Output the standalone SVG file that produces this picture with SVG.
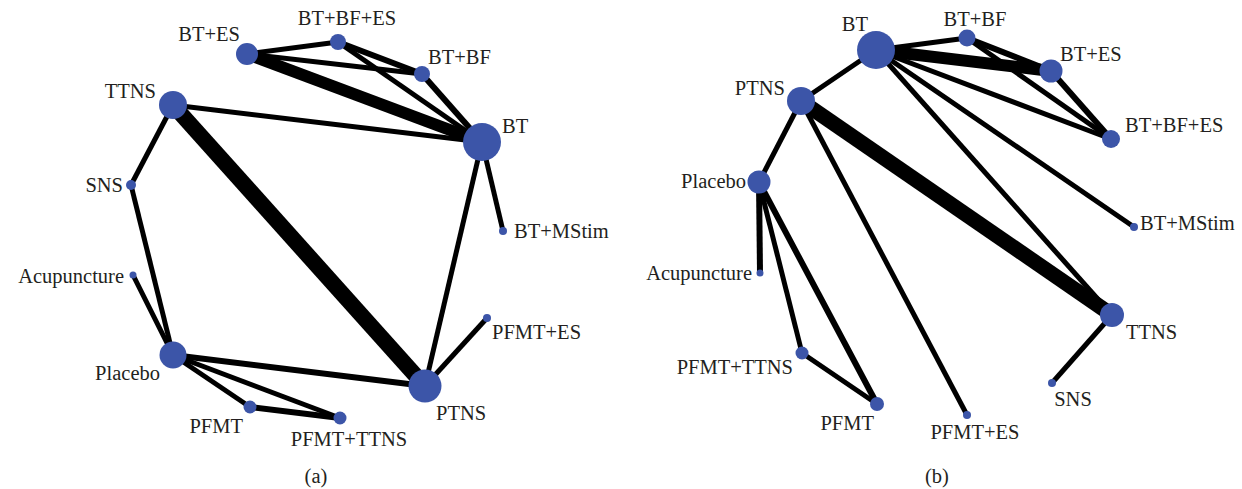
<svg xmlns="http://www.w3.org/2000/svg" width="1242" height="489" viewBox="0 0 1242 489">
<style>
.e{stroke:#000;stroke-linecap:butt;fill:none}
.n{fill:#3c55a8}
.t{font-family:"Liberation Serif","DejaVu Serif","Noto Serif",serif;font-size:20.5px;fill:#231f20}
.s{text-anchor:start}.m{text-anchor:middle}.r{text-anchor:end}
</style>
<rect width="1242" height="489" fill="#fff"/>
<g id="connectors-a">
<line class="e" x1="247" y1="54" x2="338" y2="42" stroke-width="5"/>
<line class="e" x1="247" y1="54" x2="422" y2="74" stroke-width="5"/>
<line class="e" x1="247" y1="54" x2="482" y2="142" stroke-width="12"/>
<line class="e" x1="338" y1="42" x2="422" y2="74" stroke-width="6"/>
<line class="e" x1="338" y1="42" x2="482" y2="142" stroke-width="5"/>
<line class="e" x1="422" y1="74" x2="482" y2="142" stroke-width="6"/>
<line class="e" x1="173" y1="105" x2="482" y2="142" stroke-width="5"/>
<line class="e" x1="173" y1="105" x2="131" y2="185" stroke-width="5"/>
<line class="e" x1="173" y1="105" x2="425" y2="386" stroke-width="16"/>
<line class="e" x1="482" y1="142" x2="425" y2="386" stroke-width="5"/>
<line class="e" x1="482" y1="142" x2="503" y2="231" stroke-width="5"/>
<line class="e" x1="131" y1="185" x2="173" y2="355" stroke-width="5"/>
<line class="e" x1="133" y1="275" x2="173" y2="355" stroke-width="5"/>
<line class="e" x1="173" y1="355" x2="425" y2="386" stroke-width="6"/>
<line class="e" x1="173" y1="355" x2="250" y2="407" stroke-width="5"/>
<line class="e" x1="173" y1="355" x2="340" y2="418" stroke-width="5"/>
<line class="e" x1="250" y1="407" x2="340" y2="418" stroke-width="6"/>
<line class="e" x1="425" y1="386" x2="487" y2="318" stroke-width="5"/>
</g>
<g id="connectors-b">
<line class="e" x1="876" y1="50" x2="967" y2="38" stroke-width="5"/>
<line class="e" x1="876" y1="50" x2="1051" y2="71" stroke-width="12"/>
<line class="e" x1="876" y1="50" x2="801" y2="101" stroke-width="5"/>
<line class="e" x1="876" y1="50" x2="1111" y2="139" stroke-width="5"/>
<line class="e" x1="876" y1="50" x2="1134" y2="227" stroke-width="5"/>
<line class="e" x1="876" y1="50" x2="1112" y2="315" stroke-width="5"/>
<line class="e" x1="967" y1="38" x2="1051" y2="71" stroke-width="6"/>
<line class="e" x1="967" y1="38" x2="1111" y2="139" stroke-width="5"/>
<line class="e" x1="1051" y1="71" x2="1111" y2="139" stroke-width="6"/>
<line class="e" x1="801" y1="101" x2="759" y2="182" stroke-width="5"/>
<line class="e" x1="801" y1="101" x2="967" y2="415" stroke-width="5"/>
<line class="e" x1="801" y1="101" x2="1112" y2="315" stroke-width="15"/>
<line class="e" x1="759" y1="182" x2="760" y2="273" stroke-width="6"/>
<line class="e" x1="759" y1="182" x2="802" y2="353" stroke-width="5"/>
<line class="e" x1="759" y1="182" x2="877" y2="404" stroke-width="6"/>
<line class="e" x1="802" y1="353" x2="877" y2="404" stroke-width="5"/>
<line class="e" x1="1112" y1="315" x2="1052" y2="383" stroke-width="5"/>
</g>
<g id="a-BTES"><circle class="n" cx="247" cy="54" r="11"/><text class="t r" x="240" y="41">BT+ES</text></g>
<g id="a-BTBFES"><circle class="n" cx="338" cy="42" r="8"/><text class="t m" x="347" y="25">BT+BF+ES</text></g>
<g id="a-BTBF"><circle class="n" cx="422" cy="74" r="8"/><text class="t s" x="428" y="64">BT+BF</text></g>
<g id="a-TTNS"><circle class="n" cx="173" cy="105" r="14"/><text class="t r" x="156" y="98">TTNS</text></g>
<g id="a-BT"><circle class="n" cx="482" cy="142" r="19"/><text class="t s" x="502" y="133">BT</text></g>
<g id="a-SNS"><circle class="n" cx="131" cy="185" r="5"/><text class="t r" x="123" y="192">SNS</text></g>
<g id="a-BTMStim"><circle class="n" cx="503" cy="231" r="4"/><text class="t s" x="514" y="238">BT+MStim</text></g>
<g id="a-Acupuncture"><circle class="n" cx="133" cy="275" r="3.5"/><text class="t r" x="124" y="283">Acupuncture</text></g>
<g id="a-PFMTES"><circle class="n" cx="487" cy="318" r="4"/><text class="t s" x="492" y="339">PFMT+ES</text></g>
<g id="a-Placebo"><circle class="n" cx="173" cy="355" r="13.5"/><text class="t r" x="160" y="380">Placebo</text></g>
<g id="a-PTNS"><circle class="n" cx="425" cy="386" r="16.5"/><text class="t s" x="436" y="420">PTNS</text></g>
<g id="a-PFMT"><circle class="n" cx="250" cy="407" r="6.5"/><text class="t r" x="243" y="433">PFMT</text></g>
<g id="a-PFMTTTNS"><circle class="n" cx="340" cy="418" r="6.5"/><text class="t m" x="349" y="446">PFMT+TTNS</text></g>
<text class="t m" x="316" y="483">(a)</text>
<g id="b-BT"><circle class="n" cx="876" cy="50" r="19"/><text class="t r" x="868" y="31">BT</text></g>
<g id="b-BTBF"><circle class="n" cx="967" cy="38" r="8.5"/><text class="t m" x="975" y="26">BT+BF</text></g>
<g id="b-BTES"><circle class="n" cx="1051" cy="71" r="11.5"/><text class="t s" x="1060" y="61">BT+ES</text></g>
<g id="b-PTNS"><circle class="n" cx="801" cy="101" r="14"/><text class="t r" x="785" y="95">PTNS</text></g>
<g id="b-BTBFES"><circle class="n" cx="1111" cy="139" r="9"/><text class="t s" x="1125" y="132">BT+BF+ES</text></g>
<g id="b-Placebo"><circle class="n" cx="759" cy="182" r="11.5"/><text class="t r" x="746" y="188">Placebo</text></g>
<g id="b-BTMStim"><circle class="n" cx="1134" cy="227" r="4"/><text class="t s" x="1140" y="230">BT+MStim</text></g>
<g id="b-Acupuncture"><circle class="n" cx="760" cy="273" r="3.5"/><text class="t r" x="752" y="280">Acupuncture</text></g>
<g id="b-TTNS"><circle class="n" cx="1112" cy="315" r="12"/><text class="t s" x="1126" y="339">TTNS</text></g>
<g id="b-PFMTTTNS"><circle class="n" cx="802" cy="353" r="6.5"/><text class="t r" x="793" y="374">PFMT+TTNS</text></g>
<g id="b-SNS"><circle class="n" cx="1052" cy="383" r="4"/><text class="t m" x="1073" y="406">SNS</text></g>
<g id="b-PFMT"><circle class="n" cx="877" cy="404" r="7"/><text class="t r" x="874" y="430">PFMT</text></g>
<g id="b-PFMTES"><circle class="n" cx="967" cy="415" r="4"/><text class="t m" x="975" y="439">PFMT+ES</text></g>
<text class="t m" x="937" y="483">(b)</text>
</svg>
